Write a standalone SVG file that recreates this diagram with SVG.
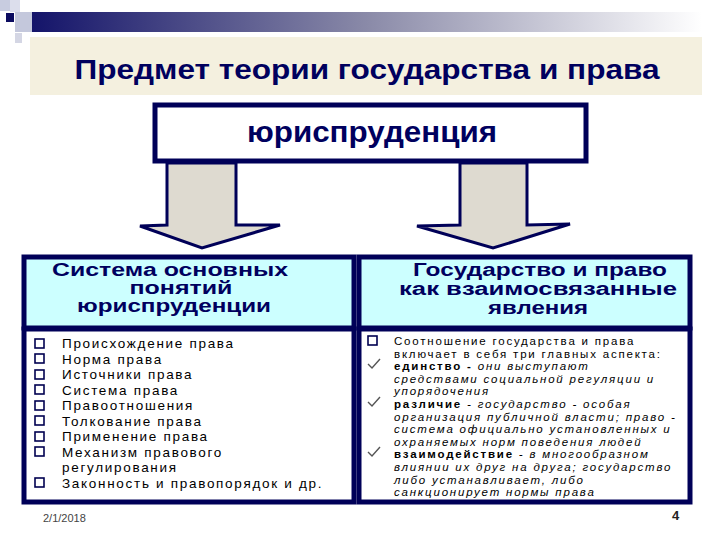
<svg xmlns="http://www.w3.org/2000/svg" width="720" height="540" viewBox="0 0 720 540">
<defs>
<linearGradient id="bar" x1="0" y1="0" x2="1" y2="0">
<stop offset="0" stop-color="#14146a"/>
<stop offset="0.5" stop-color="#8a8aa8"/>
<stop offset="1" stop-color="#ffffff"/>
</linearGradient>
<style>
.nv{fill:#00005e;font-family:"Liberation Sans",Arial,sans-serif;font-weight:bold}
.h{font-size:17.5px}
.hd{fill:#ccffff;stroke:#000058;stroke-width:5}
.lb{fill:#ffffff;stroke:#000058;stroke-width:5}
.li{font-family:"Liberation Sans",Arial,sans-serif;font-size:13.5px;letter-spacing:1.7px;fill:#000}
.ri{font-family:"Liberation Sans",Arial,sans-serif;font-size:11.5px;letter-spacing:1.8px;fill:#000}
.b{font-weight:bold}
.i{font-style:italic}
.cb{fill:none;stroke:#000050;stroke-width:1.6}
.ck{fill:none;stroke:#555;stroke-width:1.4}
.ar{fill:#dedad0;stroke:#000058;stroke-width:3;stroke-linejoin:miter}
</style>
</defs>
<rect width="720" height="540" fill="#ffffff"/>
<g id="ornament">
<rect x="0" y="0" width="10" height="11" fill="#c8cce0"/>
<rect x="10" y="0" width="10" height="12" fill="#dcdeec"/>
<rect x="15" y="12" width="18" height="20" fill="#c4c8dc"/>
<rect x="15" y="33" width="7" height="10" fill="#d4d6e4"/>
<rect x="6" y="13" width="8" height="9" fill="#0c0c60"/>
<rect x="32" y="12" width="670" height="20" fill="url(#bar)"/>
</g>
<g id="title">
<rect x="30" y="37" width="672" height="58" fill="#f4f0df"/>
<text class="nv" x="367" y="79" font-size="28" text-anchor="middle" textLength="585" lengthAdjust="spacingAndGlyphs">Предмет теории государства и права</text>
</g>
<g id="jurisprudence">
<rect x="155" y="105" width="431" height="56" fill="#ffffff" stroke="#000058" stroke-width="5"/>
<text class="nv" x="372" y="142" font-size="29" text-anchor="middle" textLength="250" lengthAdjust="spacingAndGlyphs">юриспруденция</text>
</g>
<g id="connectors">
<polygon class="ar" points="167,163 236,163 236,225 280,225 202,248 140,226 167,225"/>
<polygon class="ar" points="460,163 527,163 527,225 570,224 493,248 417,226 460,225"/>
</g>
<g id="left-header">
<rect class="hd" x="24" y="257" width="330" height="71"/>
<text class="nv h" x="170" y="276" text-anchor="middle" textLength="236" lengthAdjust="spacingAndGlyphs">Система основных</text>
<text class="nv h" x="181" y="294" text-anchor="middle" textLength="103" lengthAdjust="spacingAndGlyphs">понятий</text>
<text class="nv h" x="174" y="312" text-anchor="middle" textLength="194" lengthAdjust="spacingAndGlyphs">юриспруденции</text>
</g>
<g id="right-header">
<rect class="hd" x="359" y="257" width="331" height="71"/>
<text class="nv h" x="540" y="276" text-anchor="middle" textLength="254" lengthAdjust="spacingAndGlyphs">Государство и право</text>
<text class="nv h" x="538" y="294.5" text-anchor="middle" textLength="278" lengthAdjust="spacingAndGlyphs">как взаимосвязанные</text>
<text class="nv h" x="538" y="314" text-anchor="middle" textLength="100" lengthAdjust="spacingAndGlyphs">явления</text>
</g>
<g id="left-list">
<rect class="lb" x="24" y="329" width="330" height="173"/>
<rect class="cb" x="35" y="339" width="9" height="9"/>
<rect class="cb" x="35" y="354" width="9" height="9"/>
<rect class="cb" x="35" y="370" width="9" height="9"/>
<rect class="cb" x="35" y="385" width="9" height="9"/>
<rect class="cb" x="35" y="401" width="9" height="9"/>
<rect class="cb" x="35" y="416" width="9" height="9"/>
<rect class="cb" x="35" y="432" width="9" height="9"/>
<rect class="cb" x="35" y="447" width="9" height="9"/>
<rect class="cb" x="35" y="478" width="9" height="9"/>
<text class="li" x="62" y="348">Происхождение права</text>
<text class="li" x="62" y="363.5">Норма права</text>
<text class="li" x="62" y="379">Источники права</text>
<text class="li" x="62" y="394.5">Система права</text>
<text class="li" x="62" y="410">Правоотношения</text>
<text class="li" x="62" y="425.5">Толкование права</text>
<text class="li" x="62" y="441">Применение права</text>
<text class="li" x="62" y="456.5">Механизм правового</text>
<text class="li" x="62" y="472">регулирования</text>
<text class="li" x="62" y="487.5">Законность и правопорядок и др.</text>
</g>
<g id="right-list">
<rect class="lb" x="359" y="329" width="331" height="173"/>
<rect class="cb" x="368" y="336" width="9" height="9"/>
<path class="ck" d="M368,364 L372,368 L380,359"/>
<path class="ck" d="M368,402 L372,406 L380,397"/>
<path class="ck" d="M368,452 L372,456 L380,447"/>
<text class="ri" x="394" y="345">Соотношение государства и права</text>
<text class="ri" x="394" y="357.6">включает в себя три главных аспекта:</text>
<text class="ri" x="394" y="370.2"><tspan class="b">единство - </tspan><tspan class="i">они выступают</tspan></text>
<text class="ri i" x="394" y="382.8">средствами социальной регуляции и</text>
<text class="ri i" x="394" y="395.4">упорядочения</text>
<text class="ri" x="394" y="408"><tspan class="b">различие </tspan><tspan class="i">- государство - особая</tspan></text>
<text class="ri i" x="394" y="420.6">организация публичной власти; право -</text>
<text class="ri i" x="394" y="433.2">система официально установленных и</text>
<text class="ri i" x="394" y="445.8">охраняемых норм поведения людей</text>
<text class="ri" x="394" y="458.4"><tspan class="b">взаимодействие </tspan><tspan class="i">- в многообразном</tspan></text>
<text class="ri i" x="394" y="471">влиянии их друг на друга; государство</text>
<text class="ri i" x="394" y="483.6">либо устанавливает, либо</text>
<text class="ri i" x="394" y="496.2">санкционирует нормы права</text>
</g>
<g id="footer">
<text x="43" y="522" font-family="Liberation Sans,Arial,sans-serif" font-size="11" fill="#444">2/1/2018</text>
<text x="672" y="520" font-family="Liberation Sans,Arial,sans-serif" font-size="13" font-weight="bold" fill="#222">4</text>
</g>
</svg>
